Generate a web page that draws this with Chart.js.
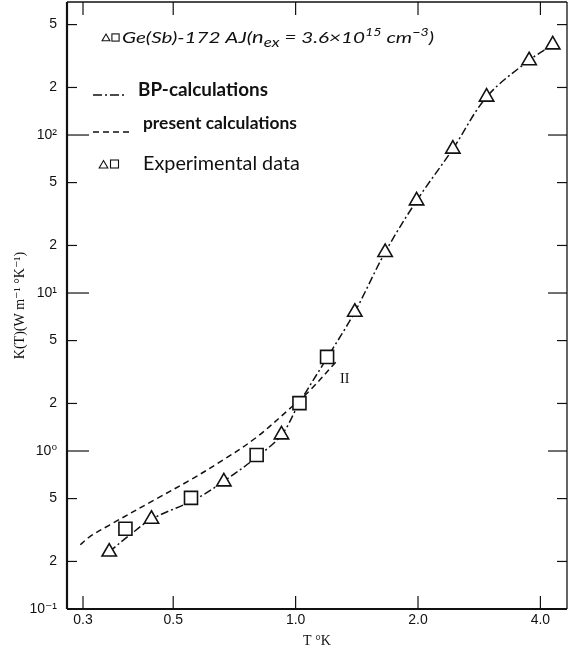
<!DOCTYPE html>
<html><head><meta charset="utf-8">
<script src="https://cdn.jsdelivr.net/npm/chart.js@4.4.1/dist/chart.umd.min.js"></script>
<style>html,body{margin:0;padding:0;background:#fff;}#wrap{width:568px;height:654px;}</style>
</head><body><div id="wrap"><canvas id="c" width="568" height="654"></canvas></div>
<script>
// ---- data ----
const triT = [0.348, 0.442, 0.666, 0.923, 1.398, 1.66, 1.984, 2.436, 2.949, 3.752, 4.289];
const triK = [0.23, 0.371, 0.639, 1.267, 7.58, 18.1, 38.4, 81.6, 174, 296, 373];
const sqT = [0.3815, 0.553, 0.802, 1.022, 1.195];
const sqK = [0.322, 0.505, 0.943, 2.01, 3.94];
const bpT = [0.348, 0.391, 0.442, 0.565, 0.665, 0.802, 0.924, 1.023, 1.193, 1.398, 1.66, 1.985, 2.436, 2.954, 3.746, 4.292];
const bpK = [0.23, 0.294, 0.37, 0.493, 0.642, 0.915, 1.266, 2.03, 3.86, 7.58, 18.1, 38.4, 81.6, 175, 296, 372];
const prT = [0.2954, 0.3113, 0.3487, 0.4544, 0.5487, 0.6627, 0.8006, 0.976, 1.083, 1.255];
const prK = [0.255, 0.286, 0.340, 0.498, 0.652, 0.876, 1.219, 1.892, 2.41, 3.65];
const xTicks = [0.3, 0.5, 1.0, 2.0, 4.0];
const xTickLabels = ['0.3', '0.5', '1.0', '2.0', '4.0'];
const yTicks = [0.1, 0.2, 0.5, 1, 2, 5, 10, 20, 50, 100, 200, 500];
const yTickLabels = ['10⁻¹', '2', '5', '10⁰', '2', '5', '10¹', '2', '5', '10²', '2', '5'];
const curveLabel = {text: 'II', T: 1.32, K: 2.86};

const INK = '#111';
const pts = (xs, ys) => xs.map((x, i) => ({x: x, y: ys[i]}));

function line(ctx, x1, y1, x2, y2) { ctx.beginPath(); ctx.moveTo(x1, y1); ctx.lineTo(x2, y2); ctx.stroke(); }
function tri(ctx, cx, cy, r) {
  ctx.beginPath(); ctx.moveTo(cx, cy - r); ctx.lineTo(cx + r * 0.866, cy + r * 0.5);
  ctx.lineTo(cx - r * 0.866, cy + r * 0.5); ctx.closePath(); ctx.stroke();
}
function sq(ctx, cx, cy, h) { ctx.strokeRect(cx - h, cy - h, 2 * h, 2 * h); }
function fitText(ctx, text, x, y, w, fontFn) {
  ctx.font = fontFn(20);
  const m = ctx.measureText(text).width;
  ctx.font = fontFn(20 * w / m);
  ctx.fillText(text, x, y);
}
function noPad(s) { s.paddingTop = 0; s.paddingBottom = 0; s.paddingLeft = 0; s.paddingRight = 0; }

const frame = {
  id: 'frame',
  afterDraw(chart) {
    const {ctx, chartArea: a, scales: {x, y}} = chart;
    ctx.save();
    ctx.strokeStyle = INK;
    ctx.lineWidth = 1.3;
    line(ctx, a.left, a.top, a.right, a.top);
    line(ctx, a.right, a.top, a.right, a.bottom);
    ctx.lineWidth = 2.2;
    line(ctx, a.left, a.top, a.left, a.bottom);
    line(ctx, a.left, a.bottom, a.right, a.bottom);
    ctx.lineWidth = 1.2;
    yTicks.forEach(v => {
      const py = y.getPixelForValue(v);
      const lg = Math.log10(v);
      const major = Math.abs(lg - Math.round(lg)) < 1e-6;
      if (py > a.bottom - 2) return;
      line(ctx, a.left, py, a.left + (major ? 22 : 10), py);
      line(ctx, a.right, py, a.right - (major ? 19 : 10), py);
    });
    xTicks.forEach(v => {
      const px = x.getPixelForValue(v);
      line(ctx, px, a.bottom, px, a.bottom - 13);
      line(ctx, px, a.top, px, a.top + 13);
    });
    ctx.fillStyle = INK;
    ctx.font = '14px "Liberation Serif", serif';
    ctx.textAlign = 'center'; ctx.textBaseline = 'middle';
    ctx.fillText(curveLabel.text, x.getPixelForValue(curveLabel.T), y.getPixelForValue(curveLabel.K));

    // legend block
    ctx.textAlign = 'left'; ctx.textBaseline = 'alphabetic';
    ctx.lineWidth = 1.1;
    tri(ctx, 106, 38.5, 4.5); sq(ctx, 115.5, 37.5, 3.6);
    const pieces = [
      {t: 'Ge(Sb)-172 AJ(', s: 16, dy: 0},
      {t: 'n', s: 17, dy: 0},
      {t: 'ex', s: 13, dy: 4},
      {t: ' = 3.6×10', s: 16, dy: 0},
      {t: '15', s: 11, dy: -7},
      {t: ' cm', s: 16, dy: 0},
      {t: '−3', s: 11, dy: -7},
      {t: ')', s: 16, dy: 0}
    ];
    const f1 = s => 'italic ' + s + 'px Lato, "DejaVu Sans", sans-serif';
    let tw = 0;
    pieces.forEach(p => { ctx.font = f1(p.s); tw += ctx.measureText(p.t).width; });
    ctx.save();
    ctx.translate(122, 43);
    ctx.scale(312 / tw, 1);
    let cx = 0;
    pieces.forEach(p => { ctx.font = f1(p.s); ctx.fillText(p.t, cx, p.dy); cx += ctx.measureText(p.t).width; });
    ctx.restore();
    ctx.lineWidth = 1.6;
    ctx.setLineDash([9, 3, 2, 3]);
    line(ctx, 93, 95, 127, 95);
    ctx.setLineDash([6, 4]);
    line(ctx, 93, 132, 131, 132);
    ctx.setLineDash([]);
    fitText(ctx, 'BP-calculations', 138, 96, 130, s => 'bold ' + s + 'px Lato, "DejaVu Sans", sans-serif');
    fitText(ctx, 'present calculations', 143, 129, 154, s => 'bold ' + s + 'px Lato, "DejaVu Sans", sans-serif');
    ctx.lineWidth = 1.1;
    tri(ctx, 103.5, 165.5, 5); sq(ctx, 114.5, 164, 4);
    fitText(ctx, 'Experimental data', 143, 170, 157, s => s + 'px Lato, "DejaVu Sans", sans-serif');
    ctx.restore();
  }
};

new Chart(document.getElementById('c'), {
  type: 'scatter',
  data: {
    datasets: [
      {label: 'Experimental (triangles)', data: pts(triT, triK), pointStyle: 'triangle', pointRadius: 8.3,
       pointBorderWidth: 1.6, pointBackgroundColor: '#fff', pointBorderColor: INK, showLine: false, order: 0},
      {label: 'Experimental (squares)', data: pts(sqT, sqK), pointStyle: 'rect', pointRadius: 9.2,
       pointBorderWidth: 1.6, pointBackgroundColor: '#fff', pointBorderColor: INK, showLine: false, order: 1},
      {label: 'BP-calculations', data: pts(bpT, bpK), showLine: true, borderColor: INK, borderWidth: 1.5,
       borderDash: [8, 3, 2, 3], pointRadius: 0, tension: 0.35, fill: false, order: 2},
      {label: 'present calculations', data: pts(prT, prK), showLine: true, borderColor: INK, borderWidth: 1.5,
       borderDash: [6, 4], pointRadius: 0, tension: 0.35, fill: false, order: 3}
    ]
  },
  options: {
    responsive: false, animation: false, devicePixelRatio: 1,
    layout: {autoPadding: false, padding: {left: 0, right: 1, top: 2, bottom: 0}},
    plugins: {legend: {display: false}, tooltip: {enabled: false}},
    scales: {
      x: {
        type: 'logarithmic', position: 'bottom', min: 0.274, max: 4.65,
        grid: {display: false, drawTicks: false}, border: {display: false},
        afterBuildTicks: s => { s.ticks = xTicks.map(v => ({value: v})); },
        afterFit: s => { s.height = 45; noPad(s); },
        ticks: {autoSkip: false, maxRotation: 0, padding: 3, color: INK,
                font: {family: '"Liberation Sans", Arial, sans-serif', size: 14},
                callback: (v, i) => xTickLabels[i]},
        title: {display: true, text: 'T °K', color: INK,
                font: {family: '"Liberation Serif", serif', size: 14}, padding: {top: 0, bottom: 4}}
      },
      y: {
        type: 'logarithmic', position: 'left', min: 0.1, max: 695,
        grid: {display: false, drawTicks: false}, border: {display: false},
        afterBuildTicks: s => { s.ticks = yTicks.map(v => ({value: v})); },
        afterFit: s => { s.width = 67; noPad(s); },
        ticks: {autoSkip: false, padding: 10, color: INK,
                font: {family: '"Liberation Sans", "DejaVu Sans", Arial, sans-serif', size: 14},
                callback: (v, i) => yTickLabels[i]},
        title: {display: true, text: 'K(T)(W m⁻¹ °K⁻¹)', color: INK,
                font: {family: '"Liberation Serif", "DejaVu Serif", serif', size: 14}, padding: {top: 12, bottom: 0}}
      }
    }
  },
  plugins: [frame]
});
</script>
</body></html>
